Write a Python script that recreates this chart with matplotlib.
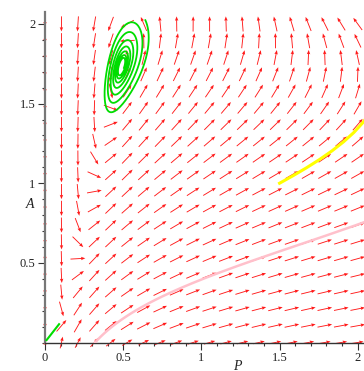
import numpy as np
import matplotlib
matplotlib.use("Agg")
import matplotlib.pyplot as plt
from matplotlib.ticker import MultipleLocator

# flow model:
#   dP/dt = P^2 * s * (1/(1+k A) - 1/(1+k f(P)))   (f = hump, P-nullcline)
#   dA/dt = P * c * (1 - A / h(P))                 (h = ramp, A-nullcline)
GROWTH = 1.0
FEED = 0.145
SAT = 0.5
HUMP = (0.6, 2.71, 0.93)      # a, c, b  ->  f(P) = a + c P / (b + P^2)
RAMP = (4.3, 0.087, 0.03)     # slope, shift, softness

ARROW_P = np.linspace(0, 2, 20)
ARROW_A = np.linspace(0, 2, 20)

# starting points of the trajectories
SPIRAL_START = [0.505, 1.725]
YELLOW_START = [1.5, 1.0]
PINK_START = [0.32, 0.0]

# short green piece at the origin
ORIGIN_P = [0.01, 0.05, 0.09]
ORIGIN_A = [0.015, 0.065, 0.115]

XTICKS = [0, 0.5, 1, 1.5, 2]
YTICKS = [0.5, 1, 1.5, 2]


def hump(P):
    a, c, b = HUMP
    return a + c * P / (b + P**2)


def ramp(P):
    k, p0, w = RAMP
    return k * w * np.logaddexp(0.0, (P - p0) / w)


def field(P, A):
    """Flow divided by P, so it stays finite on the A axis."""
    u = GROWTH * P * (1.0 / (1 + SAT * A) - 1.0 / (1 + SAT * hump(P)))
    v = FEED * (1 - A / ramp(P))
    return u, v


def rhs(y):
    u, v = field(y[0], y[1])
    return np.array([y[0] * u, y[0] * v])


def trajectory(start, dt=0.25, nmax=80000):
    y = np.array(start, dtype=float)
    pts = [y.copy()]
    for _ in range(nmax):
        k1 = rhs(y)
        k2 = rhs(y + 0.5 * dt * k1)
        k3 = rhs(y + 0.5 * dt * k2)
        k4 = rhs(y + dt * k3)
        y = y + dt * (k1 + 2 * k2 + 2 * k3 + k4) / 6
        pts.append(y.copy())
        if y[0] < 0 or y[0] > 2.04 or y[1] < 0 or y[1] > 2.02:
            break
    pts = np.array(pts)
    return pts[:, 0], pts[:, 1]


plt.rcParams['font.family'] = ['Liberation Serif', 'DejaVu Serif']

fig = plt.figure(figsize=(3.64, 3.71), dpi=100)
ax = fig.add_axes([45 / 364, (371 - 342.5) / 371, 319 / 364, 330.5 / 371])
ax.set_xlim(0, 2.04)
ax.set_ylim(0, 2.075)

# arrows
PP, AA = np.meshgrid(ARROW_P, ARROW_A)
u, v = field(PP, AA)
norm = np.hypot(u, v)
length = np.full(PP.shape, 0.095)
length[AA == 0] = 0.075
length[PP == 0] = 0.03
ax.quiver(PP, AA, u / norm * length, v / norm * length,
          angles='xy', scale_units='xy', scale=1, pivot='middle',
          color='#ff1a1a', units='dots', width=0.9,
          headwidth=3.8, headlength=4.8, headaxislength=4.3,
          clip_on=False, zorder=2)

# trajectories
sp, sa = trajectory(SPIRAL_START)
ax.plot(sp, sa, color='#00dd00', lw=1.3, zorder=3)
yp, ya = trajectory(YELLOW_START)
ax.plot(yp, ya, color='#ffff00', lw=2.2, zorder=3)
pp, pa = trajectory(PINK_START)
ax.plot(pp, pa, color='#ffc0cb', lw=1.8, zorder=3)
ax.plot(ORIGIN_P, ORIGIN_A, color='#00dd00', lw=1.5, zorder=3)

# axes in Maple style
for side in ('top', 'right'):
    ax.spines[side].set_visible(False)
ax.spines['left'].set_color('#777777')
ax.spines['left'].set_linewidth(1.6)
ax.spines['bottom'].set_color('#333333')
ax.spines['bottom'].set_linewidth(1.0)
ax.set_xticks(XTICKS)
ax.set_yticks(YTICKS)
ax.set_xticklabels(['0', '0.5', '1', '1.5', '2'])
ax.set_yticklabels(['0.5', '1', '1.5', '2'])
ax.xaxis.set_minor_locator(MultipleLocator(0.1))
ax.yaxis.set_minor_locator(MultipleLocator(0.1))
ax.tick_params(which='major', length=5, width=0.8, color='#333333',
               labelsize=9, labelcolor='#222222', pad=2)
ax.tick_params(which='minor', length=2.5, width=0.8, color='#333333')

fig.text(237 / 364, 1 - 366 / 371, 'P', style='italic', fontsize=10,
         ha='center', va='center', color='#222222')
fig.text(30 / 364, 1 - 205 / 371, 'A', style='italic', fontsize=10,
         ha='center', va='center', color='#222222')

fig.savefig('out.png', dpi=100)
